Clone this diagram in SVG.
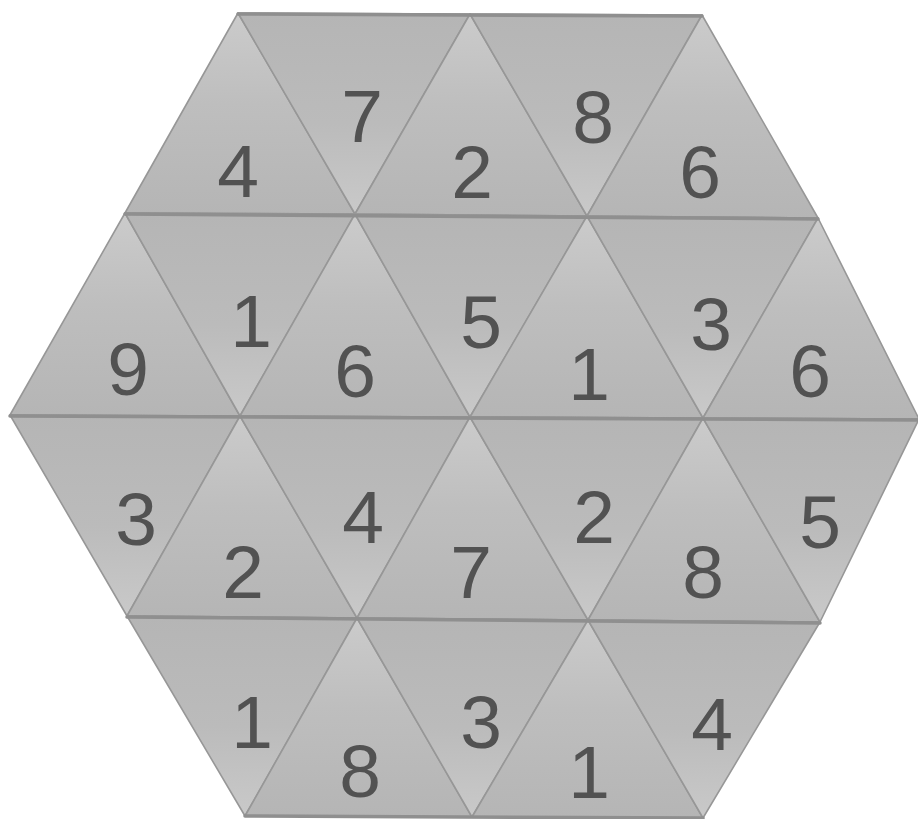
<svg xmlns="http://www.w3.org/2000/svg" width="918" height="819" viewBox="0 0 918 819">
<defs>
<linearGradient id="gUp" x1="0" y1="0" x2="0" y2="1">
<stop offset="0" stop-color="#cbcbcb"/>
<stop offset="0.45" stop-color="#bebebe"/>
<stop offset="1" stop-color="#b5b5b5"/>
</linearGradient>
<linearGradient id="gDown" x1="0" y1="0" x2="0" y2="1">
<stop offset="0" stop-color="#b5b5b5"/>
<stop offset="0.55" stop-color="#bbbbbb"/>
<stop offset="1" stop-color="#c9c9c9"/>
</linearGradient>
</defs>
<style>
.up{fill:url(#gUp);stroke:#979797;stroke-width:1.6;stroke-linejoin:round}
.dn{fill:url(#gDown);stroke:#979797;stroke-width:1.6;stroke-linejoin:round}
.n{font-family:"Liberation Sans",Arial,sans-serif;font-size:75px;fill:#525252;text-anchor:middle}
.seam{stroke:#8f8f8f;stroke-width:3.5;fill:none;stroke-linecap:round}
</style>
<rect width="918" height="819" fill="#ffffff"/>

<g id="row1">
<g id="t1-1"><polygon class="up" points="125,213 238,13 355,214"/><text class="n" x="238" y="197">4</text></g>
<g id="t1-2"><polygon class="dn" points="238,13 470,14 355,214"/><text class="n" x="362" y="142">7</text></g>
<g id="t1-3"><polygon class="up" points="355,214 470,14 587,216"/><text class="n" x="472" y="198">2</text></g>
<g id="t1-4"><polygon class="dn" points="470,14 702,15 587,216"/><text class="n" x="593" y="143">8</text></g>
<g id="t1-5"><polygon class="up" points="587,216 702,15 818,218"/><text class="n" x="700" y="198">6</text></g>
</g>

<g id="row2">
<g id="t2-1"><polygon class="up" points="10,415 125,213 240,416"/><text class="n" x="128" y="395">9</text></g>
<g id="t2-2"><polygon class="dn" points="125,213 355,214 240,416"/><text class="n" x="251" y="347">1</text></g>
<g id="t2-3"><polygon class="up" points="240,416 355,214 470,417"/><text class="n" x="355" y="397">6</text></g>
<g id="t2-4"><polygon class="dn" points="355,214 587,216 470,417"/><text class="n" x="481" y="348">5</text></g>
<g id="t2-5"><polygon class="up" points="470,417 587,216 703,418"/><text class="n" x="589" y="400">1</text></g>
<g id="t2-6"><polygon class="dn" points="587,216 818,218 703,418"/><text class="n" x="711" y="350">3</text></g>
<g id="t2-7"><polygon class="up" points="703,418 818,218 919,419"/><text class="n" x="810" y="397">6</text></g>
</g>

<g id="row3">
<g id="t3-1"><polygon class="dn" points="10,415 240,416 127,616"/><text class="n" x="136" y="545">3</text></g>
<g id="t3-2"><polygon class="up" points="127,616 240,416 357,618"/><text class="n" x="243" y="598">2</text></g>
<g id="t3-3"><polygon class="dn" points="240,416 470,417 357,618"/><text class="n" x="363" y="543">4</text></g>
<g id="t3-4"><polygon class="up" points="357,618 470,417 588,620"/><text class="n" x="471" y="598">7</text></g>
<g id="t3-5"><polygon class="dn" points="470,417 703,418 588,620"/><text class="n" x="594" y="543">2</text></g>
<g id="t3-6"><polygon class="up" points="588,620 703,418 820,622"/><text class="n" x="703" y="598">8</text></g>
<g id="t3-7"><polygon class="dn" points="703,418 919,419 820,622"/><text class="n" x="820" y="548">5</text></g>
</g>

<g id="row4">
<g id="t4-1"><polygon class="dn" points="127,616 357,618 245,816"/><text class="n" x="252" y="748">1</text></g>
<g id="t4-2"><polygon class="up" points="245,816 357,618 472,817"/><text class="n" x="360" y="797">8</text></g>
<g id="t4-3"><polygon class="dn" points="357,618 588,620 472,817"/><text class="n" x="481" y="748">3</text></g>
<g id="t4-4"><polygon class="up" points="472,817 588,620 703,818"/><text class="n" x="589" y="798">1</text></g>
<g id="t4-5"><polygon class="dn" points="588,620 820,622 703,818"/><text class="n" x="712" y="750">4</text></g>
</g>

<g id="seams">
<line class="seam" x1="238" y1="14" x2="702" y2="16"/>
<line class="seam" x1="125" y1="214" x2="818" y2="219"/>
<line class="seam" x1="10" y1="416" x2="918" y2="420"/>
<line class="seam" x1="127" y1="617" x2="820" y2="623"/>
<line class="seam" x1="245" y1="816" x2="703" y2="818"/>
</g>
</svg>
